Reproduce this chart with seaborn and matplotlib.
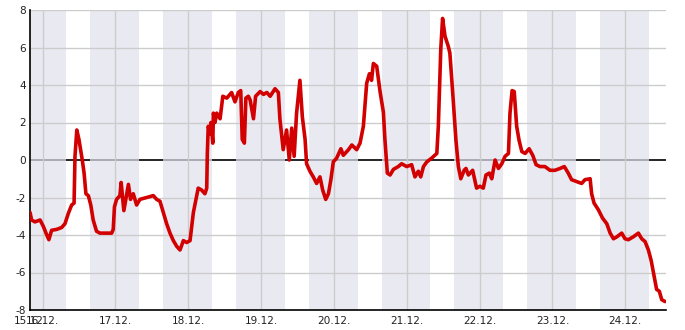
import numpy as np
import pandas as pd
import matplotlib
matplotlib.use("Agg")
import matplotlib.pyplot as plt
import matplotlib.dates as mdates
import seaborn as sns

# ---- data (hours since 15.12. 00:00, temperature °C) ----
hours = [19.9, 20.4, 21.5, 23.2, 24.3, 25.4, 26.1, 27.0, 28.7, 30.3,
         31.4, 32.5, 33.6, 34.4, 34.7, 35.3, 36.0, 36.6, 37.1, 37.7,
         38.3, 39.1, 39.9, 40.7, 41.8, 42.9, 45.1, 46.8, 47.3, 47.7,
         48.4, 49.5, 49.9, 50.8, 52.3, 53.0, 53.9, 55.0, 56.1, 58.3,
         60.5, 61.6, 62.7, 63.8, 64.9, 66.0, 67.1, 68.2, 69.3, 70.4,
         71.5, 72.6, 73.1, 73.7, 74.8, 75.3, 76.4, 77.5, 78.1, 78.3,
         78.6, 79.2, 79.5, 80.1, 80.3, 80.8, 81.4, 82.5, 83.4, 84.7,
         86.3, 87.4, 88.5, 89.3, 89.8, 90.5, 91.0, 91.8, 92.4, 93.5,
         94.2, 95.7, 96.8, 97.9, 99.0, 100.6, 101.7, 102.2, 103.3, 104.4,
         105.3, 106.1, 106.9, 107.7, 108.8, 109.6, 110.5, 111.0, 112.1, 113.2,
         114.3, 115.4, 116.3, 117.3, 118.2, 119.0, 119.8, 120.9, 122.3, 123.1,
         124.8, 125.9, 127.5, 128.6, 129.7, 130.8, 131.7, 132.4, 133.0, 134.1,
         135.2, 136.3, 136.8, 137.6, 138.5, 139.6, 141.2, 142.3, 144.0, 145.6,
         146.7, 147.8, 148.6, 149.5, 150.6, 152.2, 153.9, 154.4, 155.2, 155.8,
         156.6, 157.7, 158.2, 159.3, 160.2, 161.0, 161.8, 162.9, 163.5, 164.3,
         165.7, 167.0, 168.1, 169.2, 170.1, 171.2, 172.0, 173.1, 174.2, 175.3,
         176.4, 177.5, 178.0, 178.7, 179.4, 180.2, 181.0, 181.9, 183.0, 184.3,
         185.5, 186.6, 187.9, 189.5, 191.2, 192.8, 194.5, 195.9, 197.2, 198.3,
         200.0, 201.6, 202.7, 204.4, 204.9, 205.7, 207.1, 208.5, 209.9, 211.0,
         212.1, 213.2, 214.8, 215.9, 217.0, 218.6, 220.3, 221.4, 222.5, 223.6,
         224.5, 225.5, 226.3, 227.2, 228.0, 229.1]

temps = [-2.8, -3.2, -3.3, -3.2, -3.55, -4.0, -4.25, -3.75, -3.7, -3.6,
         -3.4, -2.85, -2.4, -2.3, 0.2, 1.6, 1.1, 0.5, 0.0, -0.7,
         -1.8, -1.9, -2.4, -3.2, -3.8, -3.9, -3.9, -3.9, -3.7, -2.5,
         -2.1, -1.9, -1.2, -2.7, -1.3, -2.1, -1.8, -2.4, -2.1, -2.0,
         -1.9, -2.1, -2.2, -2.8, -3.4, -3.9, -4.3, -4.6, -4.8, -4.3,
         -4.4, -4.3, -3.6, -2.8, -1.9, -1.5, -1.6, -1.8, -1.5, 0.35,
         1.8, 1.4, 2.0, 0.9, 2.5, 2.0, 2.5, 2.2, 3.4, 3.3,
         3.6, 3.1, 3.6, 3.7, 1.1, 0.9, 3.3, 3.4, 3.2, 2.2,
         3.4, 3.65, 3.5, 3.6, 3.4, 3.8, 3.6, 2.2, 0.55, 1.6,
         0.0, 1.7, 0.2, 2.5, 4.25, 2.3, 1.1, -0.2, -0.6, -0.9,
         -1.25, -0.9, -1.6, -2.1, -1.8, -1.05, -0.1, 0.1, 0.6, 0.25,
         0.55, 0.8, 0.55, 0.9, 1.8, 4.1, 4.6, 4.25, 5.15, 5.0,
         3.65, 2.55, 1.1, -0.7, -0.8, -0.5, -0.35, -0.2, -0.35, -0.25,
         -0.9, -0.6, -0.9, -0.35, -0.1, 0.1, 0.35, 1.8, 5.9, 7.55,
         6.6, 6.05, 5.7, 3.2, 1.05, -0.35, -1.0, -0.55, -0.45, -0.8,
         -0.55, -1.5, -1.4, -1.5, -0.8, -0.7, -1.0, 0.0, -0.45, -0.2,
         0.2, 0.35, 2.5, 3.7, 3.65, 1.8, 1.05, 0.45, 0.35, 0.6,
         0.25, -0.25, -0.35, -0.35, -0.55, -0.55, -0.45, -0.35, -0.7, -1.05,
         -1.15, -1.25, -1.05, -1.0, -1.8, -2.3, -2.65, -3.1, -3.4, -3.9,
         -4.2, -4.1, -3.9, -4.2, -4.25, -4.1, -3.9, -4.2, -4.35, -4.8,
         -5.35, -6.2, -6.9, -7.0, -7.45, -7.55]

base_day = "2023-12-15"
x_start_hours = 19.88
x_end_hours = 229.4
tick_days = ["15.12.", "16.12.", "17.12.", "18.12.", "19.12.", "20.12.",
             "21.12.", "22.12.", "23.12.", "24.12."]
sunset_hour = 15.7
sunrise_hour = 7.8

# ---- build ----
base = pd.Timestamp(base_day)
df = pd.DataFrame({"time": base + pd.to_timedelta(hours, unit="h"),
                   "temp": temps})
x0 = base + pd.Timedelta(hours=x_start_hours)
x1 = base + pd.Timedelta(hours=x_end_hours)

sns.set_style("white")
plt.rcParams["font.family"] = ["DejaVu Sans"]
plt.rcParams["axes.unicode_minus"] = False

fig = plt.figure(figsize=(6.85, 3.3), dpi=100)
ax = fig.add_axes([30 / 685, 20 / 330, 636 / 685, 300 / 330])

# night bands
for d in range(len(tick_days)):
    s = base + pd.Timedelta(days=d, hours=sunset_hour - 24)
    e = base + pd.Timedelta(days=d, hours=sunrise_hour)
    ax.axvspan(max(s, x0), min(e, x1), color=(225/255, 225/255, 236/255),
               alpha=0.71, lw=0, zorder=1)

ax.axhline(0, color="black", lw=1.2, zorder=0.9)

sns.lineplot(data=df, x="time", y="temp", color="#d20000", lw=2.6,
             ax=ax, zorder=3)

ax.set_xlim(x0, x1)
ax.set_ylim(-8, 8)
ax.set_xlabel("")
ax.set_ylabel("")

tick_pos = [x0] + [base + pd.Timedelta(days=i) for i in range(1, len(tick_days))]
ax.set_xticks(tick_pos)
ax.set_xticklabels(tick_days)
ax.set_yticks(np.arange(-8, 9, 2))
ax.set_yticklabels([str(v) for v in range(-8, 9, 2)])
ax.set_yticks(np.arange(-7, 8, 2), minor=True)

ax.set_axisbelow("line")
ax.grid(True, which="major", color="#cccccc", lw=1.0, zorder=1.5)
for t, v in zip(ax.yaxis.get_major_ticks(), range(-8, 9, 2)):
    if v == 0:
        t.gridline.set_visible(False)
# first x tick (axis start) has no gridline
ax.xaxis.get_major_ticks()[0].gridline.set_visible(False)

ax.tick_params(axis="both", which="both", direction="in", length=4,
               width=1, colors="black", labelsize=7.6, labelcolor="#222222",
               pad=3)
ax.tick_params(axis="x", which="both", pad=4)

for side in ["top", "right"]:
    ax.spines[side].set_visible(False)
for side in ["left", "bottom"]:
    ax.spines[side].set_color("black")
    ax.spines[side].set_linewidth(1.2)

fig.savefig("out.png", dpi=100)
